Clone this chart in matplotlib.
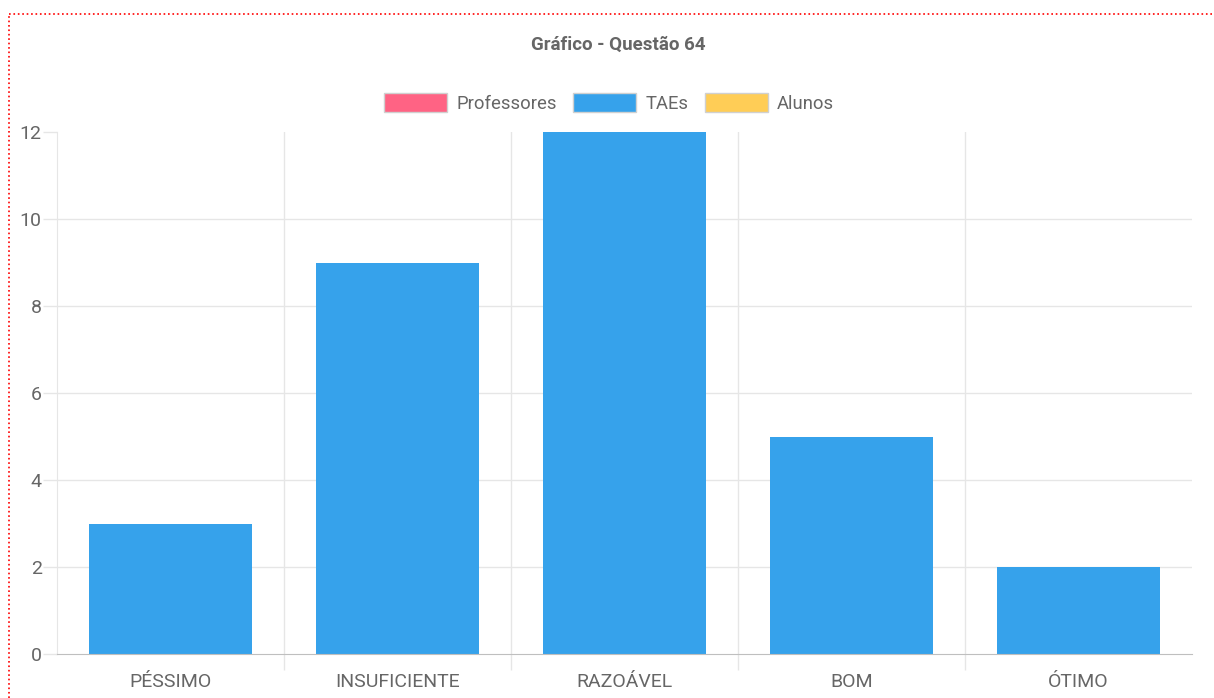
import matplotlib.pyplot as plt
from matplotlib.patches import Patch
from matplotlib.lines import Line2D
import numpy as np

plt.rcParams['font.family'] = ['Roboto', 'DejaVu Sans']

categories = ['PÉSSIMO', 'INSUFICIENTE', 'RAZOÁVEL', 'BOM', 'ÓTIMO']
taes = [3, 9, 12, 5, 2]
series_names = ['Professores', 'TAEs', 'Alunos']
series_colors = ['#FF6384', '#36A2EB', '#FFCD56']
y_ticks = [0, 2, 4, 6, 8, 10, 12]

text_color = '#666666'
grid_color = '#e6e6e6'

fig = plt.figure(figsize=(12.14, 6.98), dpi=100)
ax = fig.add_axes([57 / 1214, 1 - 654 / 698, (1192 - 57) / 1214, (654 - 132) / 698])

x = np.arange(len(categories))
ax.bar(x, taes, width=0.72, color=series_colors[1], zorder=2)

ax.set_xlim(-0.5, len(categories) - 0.5)
ax.set_ylim(0, 12)

# category labels at centres, grid/tick marks at inner category boundaries
ax.set_xticks(x)
ax.set_xticklabels(categories)
ax.set_xticks(np.arange(0.5, len(categories) - 1), minor=True)
ax.tick_params(axis='x', which='major', length=0, pad=14, labelsize=14, labelcolor=text_color)
ax.tick_params(axis='x', which='minor', length=11.5, width=1, color=grid_color)
ax.grid(axis='x', which='minor', color=grid_color, linewidth=1, zorder=0)

ax.set_yticks(y_ticks)
ax.tick_params(axis='y', length=10, width=1, color=grid_color, pad=1, labelsize=14, labelcolor=text_color)
for v in y_ticks[1:-1]:
    ax.axhline(v, color=grid_color, linewidth=1, zorder=0)

for s in ['top', 'right']:
    ax.spines[s].set_visible(False)
ax.spines['left'].set_color(grid_color)
ax.spines['bottom'].set_color('#bfbfbf')

fig.text(618 / 1214, 1 - 45 / 698, 'Gráfico - Questão 64', ha='center', va='center',
         fontsize=13.5, fontweight='bold', color=text_color)

handles = [Patch(facecolor=c, edgecolor='#d0d0d0', linewidth=1) for c in series_colors]
fig.legend(handles, series_names, loc='center', bbox_to_anchor=(609 / 1214, 1 - 103 / 698),
           ncol=3, frameon=False, fontsize=13.3, labelcolor=text_color,
           handlelength=3.4, handleheight=1.2, handletextpad=0.5, columnspacing=0.9)

# red dotted frame
fig.add_artist(Line2D([9 / 1214, 1], [1 - 14 / 698, 1 - 14 / 698], transform=fig.transFigure,
                      color='red', linestyle=':', linewidth=1.2))
fig.add_artist(Line2D([9 / 1214, 9 / 1214], [0, 1 - 14 / 698], transform=fig.transFigure,
                      color='red', linestyle=':', linewidth=1.2))

fig.savefig('out.png', dpi=100)
